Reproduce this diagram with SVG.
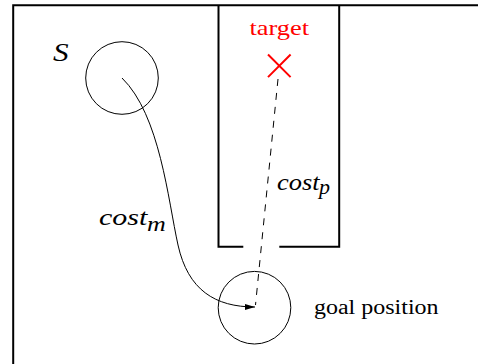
<svg xmlns="http://www.w3.org/2000/svg" width="478" height="364" viewBox="0 0 478 364">
<defs>
<style>
.frame{fill:none;stroke:#000;stroke-width:2}
.circ{fill:none;stroke:#000;stroke-width:1}
.serif{font-family:"Liberation Serif","Times New Roman",serif}
.math{font-family:"Liberation Serif","Times New Roman",serif;font-style:italic}
</style>
<marker id="arr" markerUnits="userSpaceOnUse" markerWidth="11" markerHeight="7" refX="10" refY="3" orient="auto">
<path d="M0,0 L10,3 L0,6 Z" fill="#000"/>
</marker>
</defs>
<rect width="478" height="364" fill="#fff"/>
<g id="environment">
<path class="frame" d="M13.2,364 L13.2,5.2 L478,5.2"/>
<path class="frame" d="M218.5,5.2 L218.5,246.7 L243.3,246.7 M279.3,246.7 L339.2,246.7 L339.2,5.2"/>
</g>
<g id="start">
<circle class="circ" cx="122" cy="78" r="36.3"/>
<text class="math" transform="translate(53,61) scale(1.25,1)" font-size="25">S</text>
</g>
<g id="target">
<text class="serif" transform="translate(279.2,35) scale(1.2,1)" text-anchor="middle" font-size="22" fill="#f00">target</text>
<path d="M268,54.5 L290.6,77.1 M290.6,54.5 L268,77.1" stroke="#f00" stroke-width="2" fill="none"/>
</g>
<g id="goal">
<circle class="circ" cx="254.5" cy="307.7" r="36.3"/>
<text class="serif" transform="translate(314,314.3) scale(1.17,1)" font-size="20.5">goal position</text>
</g>
<g id="connectors">
<path d="M122,78 C160,115 168,200 178,245 C188,290 215,307 255,307" fill="none" stroke="#000" stroke-width="1" marker-end="url(#arr)"/>
<path d="M278,79 L255.5,305" fill="none" stroke="#000" stroke-width="1" stroke-dasharray="7 7"/>
<text class="math" transform="translate(99,225) scale(1.25,1)" font-size="24">cost</text>
<text class="math" transform="translate(147,231) scale(1.3,1)" font-size="20">m</text>
<text class="math" transform="translate(277,190) scale(1.1,1)" font-size="24">cost</text>
<text class="math" transform="translate(319,194) scale(1.1,1)" font-size="20">p</text>
</g>
</svg>
